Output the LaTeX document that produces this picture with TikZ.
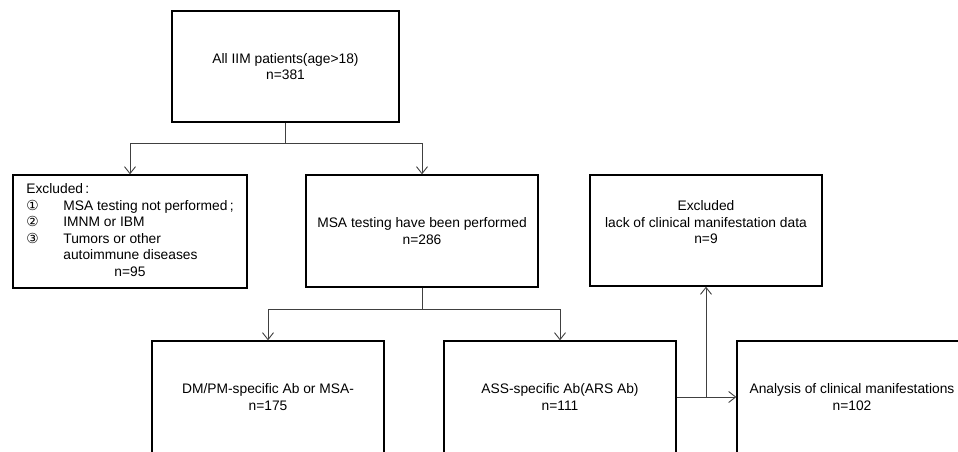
\documentclass[tikz,border=0pt]{standalone}
\usepackage{fontspec}
\setmainfont{Liberation Sans}
\newfontfamily\circfont{DejaVu Sans}
\usetikzlibrary{arrows.meta}
\begin{document}
\begin{tikzpicture}[x=1pt,y=-1pt,
  box/.style={draw=black, line width=1.3pt, rectangle, inner sep=0pt, align=center,
    minimum width=232pt, minimum height=112pt, font=\fontsize{13.8}{16.5}\selectfont},
  conn/.style={draw=black!75, line width=0.9pt},
  arr/.style={conn, -{Straight Barb[length=7pt,width=11pt]}}]
\useasboundingbox (0,0) rectangle (958,451);
\clip (0,0) rectangle (958,451);
\node[box, minimum width=227pt, minimum height=111pt] (top) at (285.5,66.5)
  {All IIM patients(age>18)\\n=381};
\node[box, minimum width=234pt, minimum height=113pt] (left) at (130,231.5)
  {\raisebox{-4pt}{\begin{tabular}{@{}p{37pt}@{}l@{}}
   Excluded\,: & \\
   {\circfont ①} & MSA testing not performed\,; \\
   {\circfont ②} & IMNM or IBM \\
   {\circfont ③} & Tumors or other \\
   & autoimmune diseases \\
   \multicolumn{2}{c}{n=95}
   \end{tabular}}};
\node[box] (mid) at (422,231) {MSA testing have been performed\\n=286};
\node[box, minimum height=111pt] (excl) at (706,230.5)
  {Excluded\\lack of clinical manifestation data\\n=9\\[0pt]};
\node[box] (dm) at (268,397) {DM/PM-specific Ab or MSA-\\n=175};
\node[box] (ass) at (560,397) {ASS-specific Ab(ARS Ab)\\n=111};
\node[box, minimum width=230pt] (ana) at (852,397) {Analysis of clinical manifestations\\n=102};
\draw[conn] (top.south) -- ++(0,21) coordinate (j1);
\draw[arr] (j1) -| (left.north);
\draw[arr] (j1) -| (mid.north);
\draw[conn] (mid.south) -- ++(0,22) coordinate (j2);
\draw[arr] (j2) -| (dm.north);
\draw[arr] (j2) -| (ass.north);
\draw[arr] (ass.east) -- (ana.west);
\coordinate (b) at (ass.east -| excl.south);
\draw[arr] (b) -- (excl.south);
\end{tikzpicture}
\end{document}
